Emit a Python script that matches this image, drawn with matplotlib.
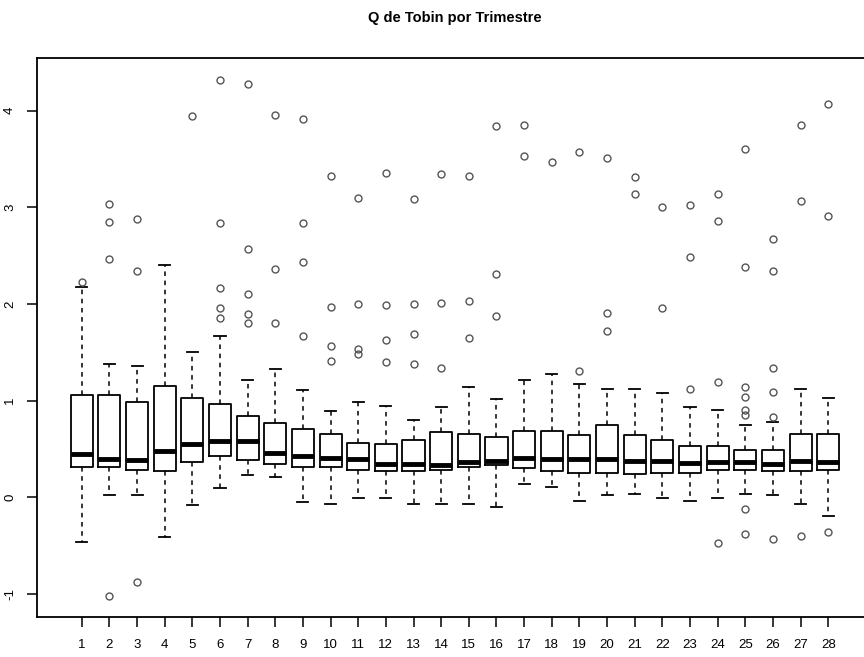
import matplotlib.pyplot as plt

plt.rcParams['font.family'] = ['Liberation Sans Narrow', 'Liberation Sans', 'DejaVu Sans']

trimestres = list(range(1, 29))

# box statistics per quarter: lower whisker, Q1, median, Q3, upper whisker
whislo = [-0.46, 0.02, 0.02, -0.41, -0.08, 0.09, 0.23, 0.21, -0.05, -0.07,
          -0.01, -0.01, -0.07, -0.07, -0.07, -0.10, 0.14, 0.11, -0.04, 0.02,
          0.03, -0.01, -0.04, -0.01, 0.03, 0.02, -0.07, -0.19]
q1 = [0.31, 0.31, 0.28, 0.27, 0.36, 0.43, 0.38, 0.34, 0.31, 0.31,
      0.28, 0.27, 0.27, 0.28, 0.31, 0.33, 0.30, 0.27, 0.25, 0.25,
      0.24, 0.25, 0.25, 0.28, 0.28, 0.27, 0.27, 0.28]
med = [0.45, 0.40, 0.38, 0.48, 0.55, 0.58, 0.58, 0.46, 0.43, 0.41,
       0.40, 0.34, 0.34, 0.33, 0.36, 0.37, 0.41, 0.40, 0.40, 0.39,
       0.37, 0.37, 0.35, 0.36, 0.36, 0.34, 0.37, 0.36]
q3 = [1.06, 1.06, 0.99, 1.15, 1.03, 0.96, 0.84, 0.77, 0.71, 0.65,
      0.56, 0.55, 0.59, 0.67, 0.65, 0.62, 0.68, 0.68, 0.64, 0.75,
      0.64, 0.59, 0.53, 0.53, 0.49, 0.49, 0.65, 0.65]
whishi = [2.18, 1.38, 1.36, 2.40, 1.50, 1.67, 1.21, 1.33, 1.11, 0.89,
          0.99, 0.94, 0.80, 0.93, 1.14, 1.02, 1.21, 1.27, 1.17, 1.12,
          1.12, 1.08, 0.93, 0.90, 0.75, 0.78, 1.12, 1.03]
outliers = [
    [2.23],
    [3.03, 2.85, 2.47, -1.02],
    [2.88, 2.34, -0.88],
    [],
    [3.94],
    [4.32, 2.84, 2.16, 1.96, 1.85],
    [4.28, 2.57, 2.10, 1.90, 1.80],
    [3.95, 2.36, 1.80],
    [3.91, 2.84, 2.43, 1.67],
    [3.32, 1.97, 1.56, 1.41],
    [3.10, 2.00, 1.53, 1.48],
    [3.35, 1.99, 1.63, 1.40],
    [3.09, 2.00, 1.69, 1.38],
    [3.34, 2.01, 1.34],
    [3.32, 2.03, 1.65],
    [3.84, 2.31, 1.88],
    [3.85, 3.53],
    [3.47],
    [3.57, 1.31],
    [3.51, 1.91, 1.72],
    [3.31, 3.14],
    [3.00, 1.96],
    [3.02, 2.49, 1.12],
    [3.14, 2.86, 1.19, -0.47],
    [3.60, 2.38, 1.14, 1.04, 0.90, 0.85, -0.12, -0.38],
    [2.67, 2.34, 1.34, 1.09, 0.83, -0.43],
    [3.85, 3.07, -0.40],
    [4.07, 2.91, -0.36],
]

stats = []
for i, t in enumerate(trimestres):
    stats.append({'label': str(t), 'whislo': whislo[i], 'q1': q1[i], 'med': med[i],
                  'q3': q3[i], 'whishi': whishi[i], 'fliers': outliers[i]})

fig = plt.figure(figsize=(8.64, 6.57), dpi=100)
ax = fig.add_axes([37 / 864, 1 - 617 / 657, (873 - 37) / 864, (617 - 58) / 657])

ax.bxp(stats, positions=trimestres, widths=0.8, showfliers=True,
       boxprops=dict(color='black', linewidth=1.3),
       medianprops=dict(color='black', linewidth=3.5, solid_capstyle='butt'),
       whiskerprops=dict(color='black', linewidth=1.1, linestyle=(0, (3, 3))),
       capprops=dict(color='black', linewidth=1.3),
       flierprops=dict(marker='o', markersize=5, markerfacecolor='none',
                       markeredgecolor='#555555', markeredgewidth=1.0),
       capwidths=0.4)

ax.set_xlim(-0.62, 29.62)
ax.set_ylim(-1.24, 4.545)
ax.set_xticks(trimestres)
ax.set_xticklabels([str(t) for t in trimestres], fontsize=9.5)
ax.set_yticks([-1, 0, 1, 2, 3, 4])
ax.set_yticklabels(['-1', '0', '1', '2', '3', '4'], rotation=90, va='center', fontsize=9.5)
ax.tick_params(axis='both', length=7, width=1.1)
ax.tick_params(axis='x', pad=9)
ax.tick_params(axis='y', pad=8)
for s in ax.spines.values():
    s.set_linewidth(1.3)

fig.text(455 / 864, 1 - 18 / 657, 'Q de Tobin por Trimestre', ha='center', va='center',
         fontsize=10.5, fontweight='bold')

plt.savefig('out.png', dpi=100)
